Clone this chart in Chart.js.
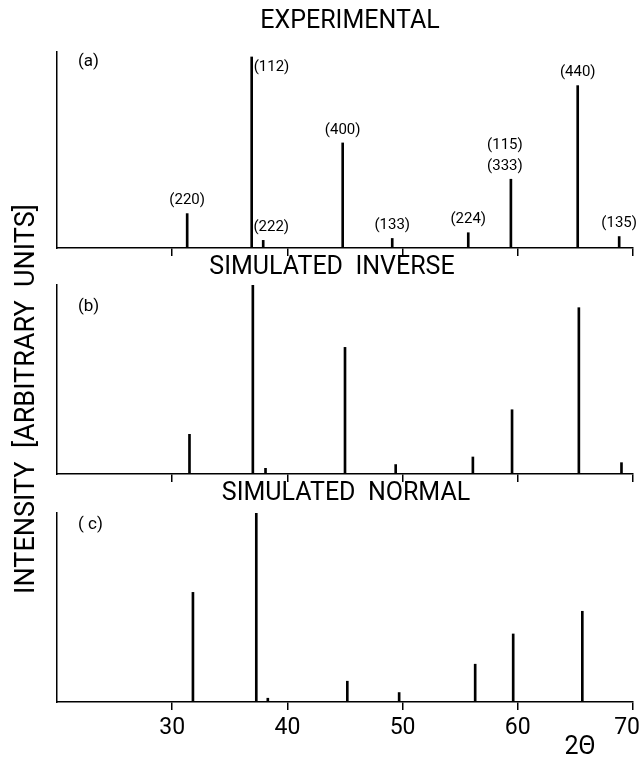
<!DOCTYPE html>
<html>
<head>
<meta charset="utf-8">
<script src="https://cdn.jsdelivr.net/npm/chart.js@4.4.0/dist/chart.umd.min.js"></script>
<style>
  body { margin: 0; background: #fff; width: 642px; height: 760px; position: relative; overflow: hidden; }
  canvas { position: absolute; left: 0; }
  #yTitle {
    position: absolute; left: -226px; top: 384px; width: 500px; height: 30px;
    line-height: 30px; text-align: center; white-space: pre;
    font: 27px Roboto, "DejaVu Sans Condensed", sans-serif; color: #000;
    transform: rotate(-90deg);
  }
</style>
</head>
<body>
<canvas id="expChart" width="642" height="260" style="top:0px"></canvas>
<canvas id="invChart" width="642" height="230" style="top:255px"></canvas>
<canvas id="normChart" width="642" height="280" style="top:480px"></canvas>
<div id="yTitle">INTENSITY  [ARBITRARY  UNITS]</div>
<script>
// x axis (2 theta, degrees)
const xTicks = [30, 40, 50, 60, 70];

// (a) experimental pattern
const expPos = [31.3, 36.9, 37.9, 44.8, 49.1, 55.7, 59.4, 65.2, 68.8];
const expInt = [18, 100, 4, 55, 5, 8, 36, 85, 6];
const expHkl = ['(220)', '(112)', '(222)', '(400)', '(133)', '(224)', '(115)\n(333)', '(440)', '(135)'];

// (b) simulated inverse spinel
const invPos = [31.5, 37.0, 38.1, 45.0, 49.4, 56.1, 59.5, 65.3, 69.0];
const invInt = [21, 100, 3, 67, 5, 9, 34, 88, 6];

// (c) simulated normal spinel
const normPos = [31.8, 37.3, 38.3, 45.2, 49.7, 56.3, 59.6, 65.6];
const normInt = [58, 100, 2, 11, 5, 20, 36, 48];

const FONT = 'Roboto, "DejaVu Sans Condensed", sans-serif';

// draws panel title, panel letter, hkl labels, tick labels and the 2-theta label
const panelText = {
  id: 'panelText',
  afterDraw(chart, args, o) {
    const ctx = chart.ctx;
    const a = chart.chartArea;
    const xs = chart.scales.x, ys = chart.scales.y;
    ctx.save();
    ctx.fillStyle = '#000';
    ctx.textBaseline = 'middle';

    ctx.textAlign = 'center';
    ctx.font = '25px ' + FONT;
    ctx.fillText(o.title, o.titleX, a.top - o.titleGap);

    ctx.textAlign = 'left';
    ctx.font = '17px ' + FONT;
    ctx.fillText(o.letter, 78, a.top + o.letterDy);

    if (o.hkl) {
      const data = chart.data.datasets[0].data;
      ctx.font = '15px ' + FONT;
      o.hkl.forEach((lab, i) => {
        const px = xs.getPixelForValue(data[i].x);
        const top = ys.getPixelForValue(data[i].y);
        const lines = lab.split('\n');
        if (lab === '(112)') {
          ctx.textAlign = 'left';
          ctx.fillText(lab, px + 2, top + 10);
          return;
        }
        ctx.textAlign = 'center';
        const dx = (o.shift && o.shift[lab]) || 0;
        lines.forEach((ln, k) => {
          ctx.fillText(ln, px + dx, top - 13 - (lines.length - 1 - k) * 21);
        });
      });
    }

    if (o.tickLabels) {
      ctx.textAlign = 'center';
      ctx.font = '23px ' + FONT;
      xs.ticks.forEach(t => {
        const s = String(t.value);
        const w = ctx.measureText(s).width;
        const px = Math.min(xs.getPixelForValue(t.value), chart.width - 2 - w / 2);
        ctx.fillText(s, px, a.bottom + 26);
      });
    }

    if (o.xTitle) {
      ctx.textAlign = 'center';
      ctx.font = '25px ' + FONT;
      ctx.fillText(o.xTitle, 580, a.bottom + 46);
    }
    ctx.restore();
  }
};

function makePanel(id, pos, vals, yMax, padTop, xHeight, text) {
  return new Chart(document.getElementById(id), {
    type: 'bar',
    data: {
      datasets: [{
        data: pos.map((p, i) => ({ x: p, y: vals[i] })),
        backgroundColor: '#000',
        borderWidth: 0,
        barThickness: 2
      }]
    },
    options: {
      responsive: false,
      animation: false,
      devicePixelRatio: 1,
      layout: { padding: { top: padTop, right: 9, left: 0, bottom: 0 } },
      plugins: { legend: { display: false }, tooltip: { enabled: false }, panelText: text },
      scales: {
        x: {
          type: 'linear',
          min: 20, max: 70,
          offset: false,
          afterBuildTicks: s => { s.ticks = xTicks.map(v => ({ value: v })); },
          afterFit: s => { s.height = xHeight; s.paddingLeft = 0; s.paddingRight = 0; },
          grid: { display: true, offset: false, drawOnChartArea: false, drawTicks: true, tickLength: 8, color: '#000', lineWidth: 1.5 },
          border: { display: true, color: '#000', width: 1.5 },
          ticks: { display: false }
        },
        y: {
          min: 0, max: yMax,
          afterFit: s => { s.width = 57; },
          ticks: { display: false },
          grid: { display: false },
          border: { display: true, color: '#000', width: 1.5 }
        }
      }
    },
    plugins: [panelText]
  });
}

makePanel('expChart', expPos, expInt, 102.6, 52, 12, {
  title: 'EXPERIMENTAL', titleX: 350, titleGap: 30, letter: '(a)', letterDy: 10,
  hkl: expHkl, shift: { '(222)': 8, '(115)\n(333)': -6 }
});
makePanel('invChart', invPos, invInt, 100, 30, 11, {
  title: 'SIMULATED  INVERSE', titleX: 332, titleGap: 17, letter: '(b)', letterDy: 22
});
makePanel('normChart', normPos, normInt, 100, 33, 58, {
  title: 'SIMULATED  NORMAL', titleX: 346, titleGap: 19, letter: '( c)', letterDy: 12,
  tickLabels: true, xTitle: '2\u0398'
});
</script>
</body>
</html>
